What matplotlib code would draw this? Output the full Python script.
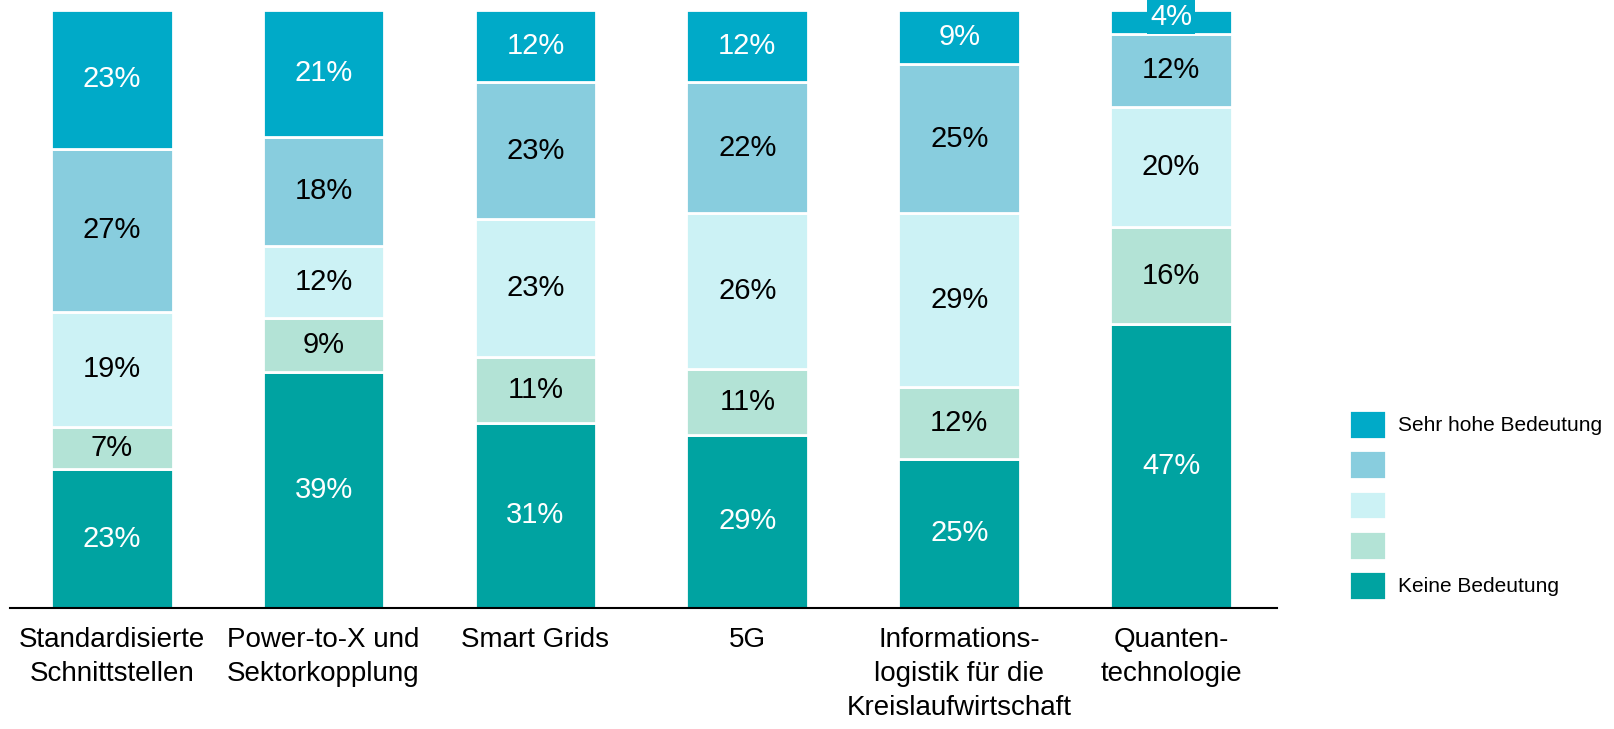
import matplotlib.pyplot as plt
import numpy as np

categories = ["Standardisierte\nSchnittstellen", "Power-to-X und\nSektorkopplung", "Smart Grids",
              "5G", "Informations-\nlogistik für die\nKreislaufwirtschaft", "Quanten-\ntechnologie"]
keine = [23, 39, 31, 29, 25, 47]
stufe2 = [7, 9, 11, 11, 12, 16]
stufe3 = [19, 12, 23, 26, 29, 20]
stufe4 = [27, 18, 23, 22, 25, 12]
sehr_hoch = [23, 21, 12, 12, 9, 4]

series = [keine, stufe2, stufe3, stufe4, sehr_hoch]
labels = ["Keine Bedeutung", "", "", "", "Sehr hohe Bedeutung"]
colors = ["#00A3A1", "#B3E3D6", "#CCF2F5", "#88CDDE", "#00AAC8"]
text_colors = ["white", "black", "black", "black", "white"]

plt.rcParams["font.family"] = ["Liberation Sans Narrow", "Liberation Sans", "DejaVu Sans"]

fig = plt.figure(figsize=(16.15, 7.29), dpi=100)
ax = fig.add_axes([10 / 1615, 121 / 729, 1267 / 1615, 598 / 729])

x = np.arange(len(categories))
data = np.array(series, dtype=float)
totals = data.sum(axis=0)
bottom = np.zeros(len(categories))
handles = []
for vals, col, tc, lab in zip(data, colors, text_colors, labels):
    h = vals / totals * 100
    bars = ax.bar(x, h, 0.575, bottom=bottom, color=col, edgecolor="white", linewidth=2, label=lab)
    handles.append(bars)
    for xi, hi, bi, v in zip(x, h, bottom, vals):
        if v < 6:
            # small top segment: label in a coloured box that sticks out above the bar
            ax.text(xi, bi + hi / 2 + 0.9, f"{int(v)}%", ha="center", va="center", color=tc,
                    fontsize=21, bbox=dict(facecolor=col, edgecolor="none", pad=2))
        else:
            ax.text(xi, bi + hi / 2, f"{int(v)}%", ha="center", va="center", color=tc, fontsize=21)
    bottom += h

ax.set_xlim(-0.48, 5.5)
ax.set_ylim(0, 100)
ax.set_yticks([])
for s in ["top", "right", "left"]:
    ax.spines[s].set_visible(False)
ax.spines["bottom"].set_linewidth(1.5)
ax.set_xticks(x)
ax.set_xticklabels(categories, fontsize=20, linespacing=1.38)
ax.tick_params(axis="x", length=0, pad=14)

leg = fig.legend(handles[::-1], labels[::-1], loc="upper left", bbox_to_anchor=(1349 / 1615, 1 - 410 / 729),
                 frameon=False, fontsize=15, handlelength=1.8, handleheight=1.75,
                 handletextpad=0.55, labelspacing=0.55, borderaxespad=0, borderpad=0)

fig.savefig("out.png", dpi=100)
